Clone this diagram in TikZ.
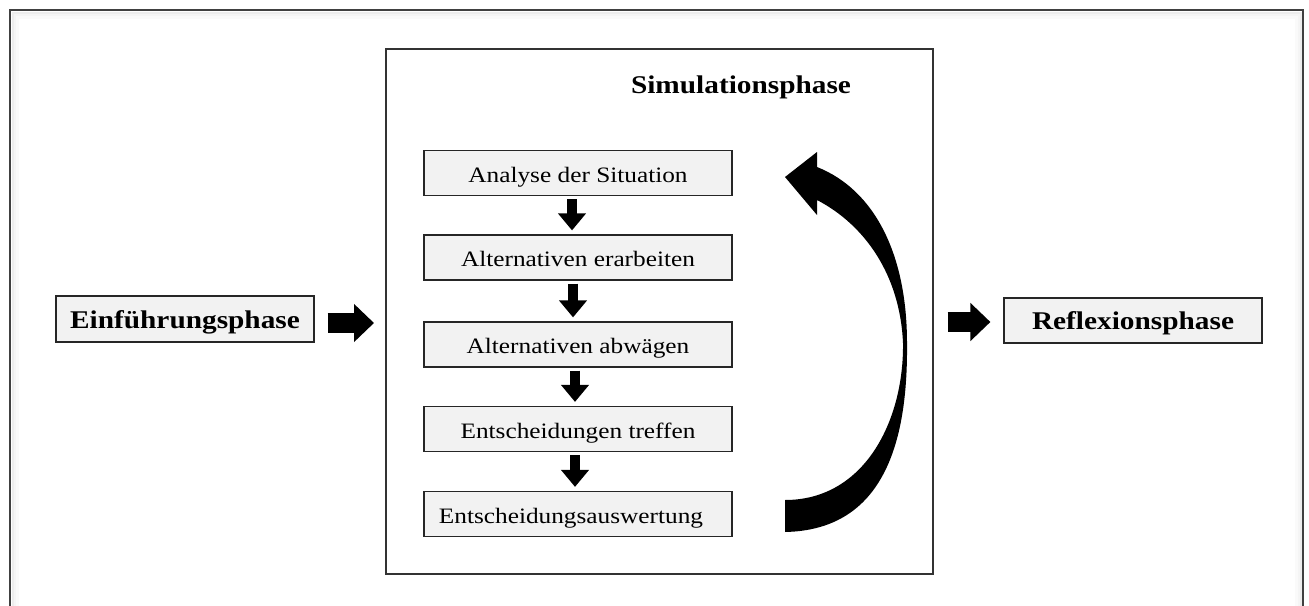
\documentclass[tikz,border=0pt]{standalone}
\usepackage{fontspec}
\setmainfont{Liberation Serif}
\usepackage{graphicx}
\usetikzlibrary{arrows.meta,calc}
\newcommand{\hstretch}[1]{\scalebox{1.15}[1]{#1}}
\definecolor{boxfill}{HTML}{F2F2F2}
\definecolor{framecol}{HTML}{404040}
\begin{document}
\begin{tikzpicture}[x=1pt,y=-1pt,
  stepbox/.style={draw=black!85, line width=1.2pt, fill=boxfill, minimum width=308pt, minimum height=45pt, inner sep=0pt, text height=20pt, text depth=1.4pt, font=\fontsize{22}{24}\selectfont},
  phasebox/.style={draw=black!85, line width=1.2pt, fill=boxfill, minimum width=258pt, minimum height=46pt, inner sep=0pt, text height=22pt, text depth=3.4pt, font=\fontsize{25.5}{28}\selectfont\bfseries},
  downarrow/.style={line width=10pt, -{Triangle[width=27pt,length=17pt]}},
  rightarrow/.style={line width=20pt, -{Triangle[width=37pt,length=20pt]}},
]
\useasboundingbox (0,0) rectangle (1309,605);
\begin{scope}
  \clip (0,0) rectangle (1309,605);
  \draw[black!7, line width=2pt] (12.5,640) -- (12.5,12.5) -- (1300.5,12.5) -- (1300.5,640);
  \draw[black!4, line width=2pt] (14.5,640) -- (14.5,14.5) -- (1298.5,14.5) -- (1298.5,640);
  \draw[black!2, line width=3pt] (17,640) -- (17,17) -- (1296,17) -- (1296,640);
  \draw[framecol, line width=1.6pt] (10,10) rectangle (1303,640);
\end{scope}

\node[draw=black!80, line width=1.5pt, fill=white, minimum width=547pt, minimum height=525pt, inner sep=0pt, anchor=north west] (sim) at (385,48) {};
\node[font=\fontsize{25.5}{28}\selectfont\bfseries] (title) at (741,87) {\hstretch{Simulationsphase}};

\node[stepbox] (b1) at (578,173) {\hstretch{Analyse der Situation}};
\node[stepbox] (b2) at (578,257.5) {\hstretch{Alternativen erarbeiten}};
\node[stepbox] (b3) at (578,344.5) {\hstretch{Alternativen abwägen}};
\node[stepbox] (b4) at (578,429) {\hstretch{Entscheidungen treffen}};
\node[stepbox] (b5) at (578,514) {\hspace*{-14pt}\hstretch{Entscheidungsauswertung}};

\node[phasebox] (E) at (185,319) {\hstretch{Einführungsphase}};
\node[phasebox, minimum height=45pt] (R) at (1133,320.5) {\hstretch{Reflexionsphase}};

\draw[downarrow] ($(b1.south)+(-6,3)$) -- ($(b2.north)+(-6,-4)$);
\draw[downarrow] ($(b2.south)+(-5,3)$) -- ($(b3.north)+(-5,-4)$);
\draw[downarrow] ($(b3.south)+(-3,3)$) -- ($(b4.north)+(-3,-4)$);
\draw[downarrow] ($(b4.south)+(-3,3)$) -- ($(b5.north)+(-3,-4)$);

\draw[rightarrow] ($(E.east)+(13,4)$) -- ($(sim.west |- E.east)+(-11,4)$);
\draw[rightarrow] ($(sim.east |- R.west)+(14,1.5)$) -- ($(R.west)+(-13,1.5)$);

\fill[black] (785,532) .. controls (885,530) and (908,440) .. (907,343)
  .. controls (907,255) and (875,190) .. (817,167)
  -- (817,152) -- (785,177) -- (817,215) -- (817,200)
  .. controls (865,225) and (900,275) .. (903,343)
  .. controls (904,420) and (865,500) .. (785,500) -- cycle;
\end{tikzpicture}
\end{document}
